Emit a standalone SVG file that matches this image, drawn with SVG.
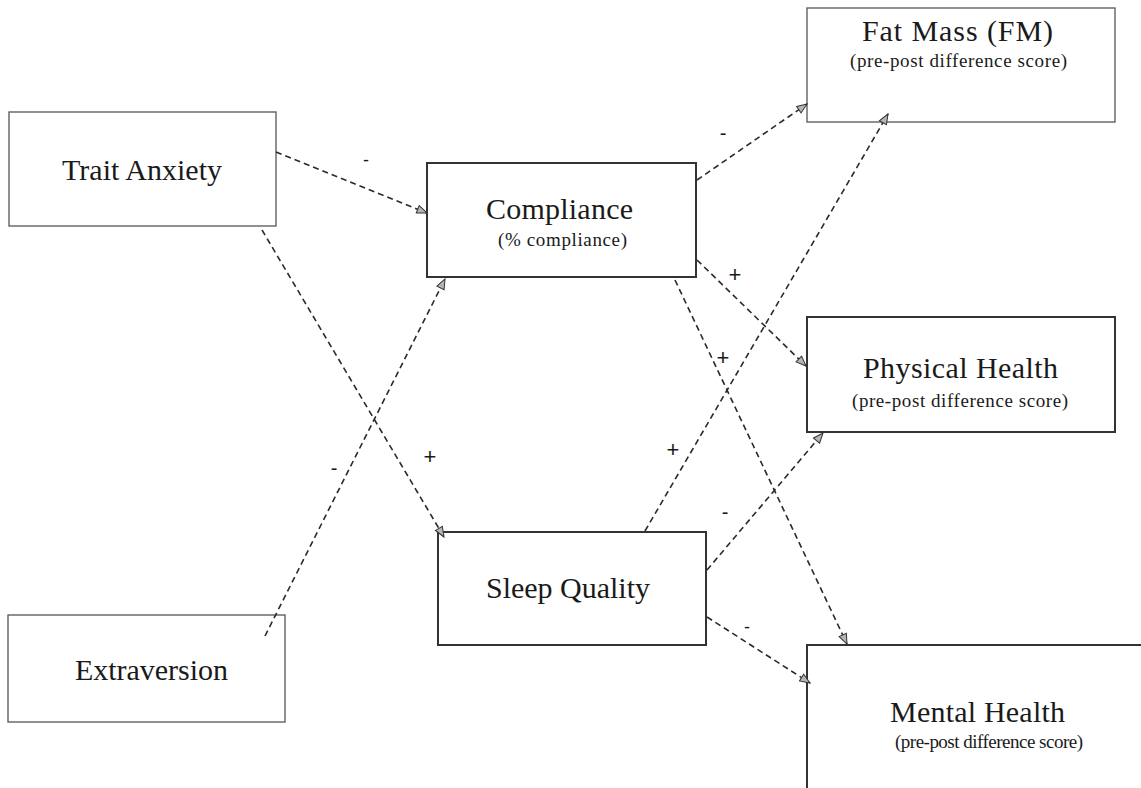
<svg xmlns="http://www.w3.org/2000/svg" width="1141" height="788" viewBox="0 0 1141 788">
<defs>
<marker id="arr" markerWidth="12" markerHeight="10" refX="11" refY="5" orient="auto" markerUnits="userSpaceOnUse">
<path d="M1,1 L11,5 L1,9 Z" fill="#b5b5b5" stroke="#333" stroke-width="1"/>
</marker>
</defs>
<style>
.box{fill:#fff;stroke:#333;stroke-width:2}
.lbox{fill:#fff;stroke:#555;stroke-width:1.3}
.t{font-family:"Liberation Serif","Times New Roman",serif;fill:#1a1a1a;text-anchor:start}
.m{font-size:30px}
.s{font-size:19px}
.e{fill:none;stroke:#2a2a2a;stroke-width:1.6;stroke-dasharray:6 4;marker-end:url(#arr)}
.sg{font-family:"Liberation Sans",Arial,sans-serif;fill:#1a1a1a;text-anchor:middle}
</style>
<rect width="1141" height="788" fill="#fff"/>
<g id="trait-anxiety">
<rect class="lbox" x="9" y="112" width="267" height="114"/>
<text class="t m" x="62" y="180" textLength="160" lengthAdjust="spacing">Trait Anxiety</text>
</g>
<g id="extraversion">
<rect class="lbox" x="8" y="615" width="277" height="107"/>
<text class="t m" x="75" y="680" textLength="153" lengthAdjust="spacing">Extraversion</text>
</g>
<g id="compliance">
<rect class="box" x="427" y="163" width="269" height="114"/>
<text class="t m" x="486" y="219" textLength="147" lengthAdjust="spacing">Compliance</text>
<text class="t s" x="498" y="246" textLength="129" lengthAdjust="spacing">(% compliance)</text>
</g>
<g id="sleep-quality">
<rect class="box" x="438" y="532" width="268" height="113"/>
<text class="t m" x="486" y="598" textLength="164" lengthAdjust="spacing">Sleep Quality</text>
</g>
<g id="fat-mass">
<rect class="lbox" x="807" y="8" width="308" height="114"/>
<text class="t m" x="862" y="41" textLength="191" lengthAdjust="spacing">Fat Mass (FM)</text>
<text class="t s" x="850" y="67" textLength="217" lengthAdjust="spacing">(pre-post difference score)</text>
</g>
<g id="physical-health">
<rect class="box" x="807" y="317" width="308" height="115"/>
<text class="t m" x="863" y="378" textLength="195" lengthAdjust="spacing">Physical Health</text>
<text class="t s" x="852" y="407" textLength="216" lengthAdjust="spacing">(pre-post difference score)</text>
</g>
<g id="mental-health">
<rect class="box" x="807" y="645" width="345" height="160"/>
<text class="t m" x="890" y="722" textLength="175" lengthAdjust="spacing">Mental Health</text>
<text class="t s" x="895" y="748" textLength="188" lengthAdjust="spacing">(pre-post difference score)</text>
</g>
<g id="connectors">
<path class="e" d="M276,152 L427,213"/>
<path class="e" d="M262,230 L444,537"/>
<path class="e" d="M265,636 L445,279"/>
<path class="e" d="M697,180 L807,104"/>
<path class="e" d="M697,260 L806,366"/>
<path class="e" d="M675,280 L847,644"/>
<path class="e" d="M645,531 L888,114"/>
<path class="e" d="M707,570 L823,433"/>
<path class="e" d="M707,617 L810,683"/>
</g>
<g id="signs">
<text class="sg" x="366" y="166" font-size="18">-</text>
<text class="sg" x="334" y="475" font-size="20">-</text>
<text class="sg" x="430" y="464" font-size="22">+</text>
<text class="sg" x="723" y="140" font-size="20">-</text>
<text class="sg" x="735" y="282" font-size="22">+</text>
<text class="sg" x="723" y="365" font-size="22">+</text>
<text class="sg" x="673" y="457" font-size="22">+</text>
<text class="sg" x="725" y="519" font-size="20">-</text>
<text class="sg" x="747" y="633" font-size="18">-</text>
</g>
</svg>
